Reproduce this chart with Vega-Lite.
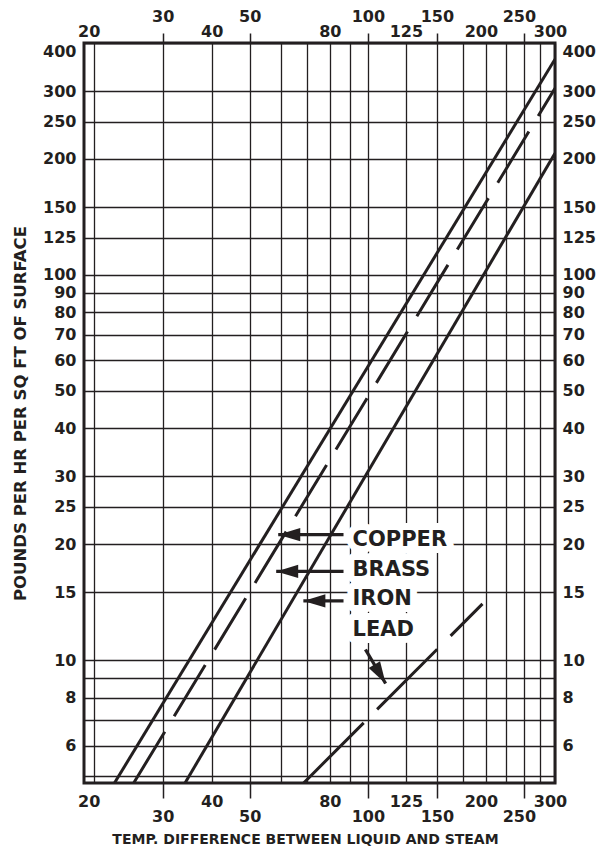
{
  "$schema": "https://vega.github.io/schema/vega-lite/v6.json",
  "width": 471,
  "height": 740,
  "autosize": "none",
  "padding": {"left": 84, "top": 43, "right": 48, "bottom": 67},
  "background": "white",
  "config": {
    "font": "DejaVu Sans",
    "view": {"stroke": "#231f20", "strokeWidth": 3},
    "axis": {
      "domain": false,
      "labelFont": "DejaVu Sans",
      "labelFontWeight": "bold",
      "labelFontSize": 16,
      "labelColor": "#231f20",
      "labelOverlap": false,
      "labelFlush": false,
      "labelBound": false,
      "titleFont": "DejaVu Sans",
      "titleFontWeight": "bold",
      "titleColor": "#231f20",
      "gridColor": "#231f20",
      "gridOpacity": 1,
      "gridWidth": 1.3,
      "tickColor": "#231f20",
      "tickWidth": 1.5,
      "format": "d"
    }
  },
  "datasets": {
    "curves": [
      {"material": "COPPER", "dt": 22.6, "rate": 4.8},
      {"material": "COPPER", "dt": 300, "rate": 363},
      {"material": "BRASS", "dt": 25.3, "rate": 4.8},
      {"material": "BRASS", "dt": 300, "rate": 305},
      {"material": "IRON", "dt": 34.2, "rate": 4.8},
      {"material": "IRON", "dt": 300, "rate": 207},
      {"material": "LEAD", "dt": 68.6, "rate": 4.8},
      {"material": "LEAD", "dt": 196, "rate": 14.0}
    ],
    "labels": [
      {"name": "COPPER", "tx": 91.4, "ty": 20.55, "ax": 86.7, "ay": 21.18, "hx": 59.1, "hy": 21.18},
      {"name": "BRASS", "tx": 91.4, "ty": 17.18, "ax": 86.7, "ay": 17.0, "hx": 58.4, "hy": 17.0},
      {"name": "IRON", "tx": 91.4, "ty": 14.45, "ax": 86.7, "ay": 14.25, "hx": 68.5, "hy": 14.25},
      {"name": "LEAD", "tx": 91.4, "ty": 12.01, "ax": 98.6, "ay": 10.66, "hx": 111, "hy": 8.7}
    ]
  },
  "layer": [
    {
      "data": {"name": "curves"},
      "transform": [{"filter": "datum.material == 'COPPER' || datum.material == 'IRON'"}],
      "mark": {"type": "line", "clip": true, "color": "#231f20", "strokeWidth": 3},
      "encoding": {
        "x": {
          "field": "dt", "type": "quantitative",
          "scale": {"type": "log", "domain": [18.9, 300], "nice": false},
          "axis": {
            "orient": "bottom",
            "values": [20, 30, 40, 50, 60, 70, 80, 90, 100, 125, 150, 175, 200, 225, 250, 275, 300],
            "grid": true,
            "labelExpr": "indexof([30, 50, 100, 150, 250], datum.value) >= 0 ? ['', datum.label] : (indexof([20, 40, 80, 125, 200, 300], datum.value) >= 0 ? datum.label : '')",
            "labelLineHeight": 15,
            "labelOffset": {"condition": {"test": "indexof([20, 200, 250, 300], datum.value) >= 0", "value": -5}, "value": 0},
            "tickSize": 15,
            "tickOpacity": {"condition": {"test": "indexof([30, 50, 100, 150, 250], datum.value) >= 0", "value": 1}, "value": 0},
            "labelPadding": -5,
            "labelBaseline": "top",
            "title": "TEMP. DIFFERENCE BETWEEN LIQUID AND STEAM",
            "titleFontSize": 14,
            "titleX": 221,
            "titleY": 56,
            "titleBaseline": "middle"
          }
        },
        "y": {
          "field": "rate", "type": "quantitative",
          "scale": {"type": "log", "domain": [4.8, 400], "nice": false},
          "axis": {
            "orient": "left",
            "values": [5, 6, 7, 8, 9, 10, 15, 20, 25, 30, 40, 50, 60, 70, 80, 90, 100, 125, 150, 200, 250, 300, 400],
            "grid": true,
            "ticks": false,
            "labelFlush": true,
            "labelExpr": "indexof([5, 7, 9], datum.value) >= 0 ? '' : datum.label",
            "labelPadding": 8,
            "title": "POUNDS PER HR PER SQ FT OF SURFACE",
            "titleFontSize": 16.5,
            "titlePadding": 14
          }
        },
        "detail": {"field": "material"}
      }
    },
    {
      "data": {"name": "curves"},
      "transform": [{"filter": "datum.material == 'BRASS'"}],
      "mark": {"type": "line", "clip": true, "color": "#231f20", "strokeWidth": 3, "strokeDash": [60, 18]},
      "encoding": {
        "x": {
          "field": "dt", "type": "quantitative",
          "scale": {"type": "log", "domain": [18.9, 300], "nice": false},
          "axis": {
            "orient": "top",
            "values": [20, 30, 40, 50, 80, 100, 125, 150, 200, 250, 300],
            "grid": false,
            "labelLineHeight": 46,
            "labelBaseline": {"condition": {"test": "indexof([30, 50, 100, 150, 250], datum.value) >= 0", "value": "line-bottom"}, "value": "bottom"},
            "labelOffset": {"condition": {"test": "indexof([20, 200, 250, 300], datum.value) >= 0", "value": -5}, "value": 0},
            "tickSize": 10,
            "tickOpacity": {"condition": {"test": "indexof([30, 50, 100, 150, 250], datum.value) >= 0", "value": 1}, "value": 0},
            "labelPadding": -6,
            "title": null
          }
        },
        "y": {
          "field": "rate", "type": "quantitative",
          "scale": {"type": "log", "domain": [4.8, 400], "nice": false},
          "axis": {
            "orient": "right",
            "values": [6, 8, 10, 15, 20, 25, 30, 40, 50, 60, 70, 80, 90, 100, 125, 150, 200, 250, 300, 400],
            "grid": false,
            "ticks": false,
            "labelFlush": true,
            "labelPadding": 7,
            "title": null
          }
        }
      }
    },
    {
      "data": {"name": "curves"},
      "transform": [{"filter": "datum.material == 'LEAD'"}],
      "mark": {"type": "line", "clip": true, "color": "#231f20", "strokeWidth": 3, "strokeDash": [85, 19]},
      "encoding": {
        "x": {"field": "dt", "type": "quantitative", "axis": null},
        "y": {"field": "rate", "type": "quantitative", "axis": null}
      }
    },
    {
      "data": {"name": "labels"},
      "mark": {"type": "text", "align": "left", "baseline": "middle", "font": "DejaVu Sans", "fontWeight": "bold", "fontSize": 21, "color": "white", "stroke": "white", "strokeWidth": 14, "strokeJoin": "round"},
      "encoding": {
        "x": {"field": "tx", "type": "quantitative", "axis": null},
        "y": {"field": "ty", "type": "quantitative", "axis": null},
        "text": {"field": "name"}
      }
    },
    {
      "data": {"name": "labels"},
      "mark": {"type": "text", "align": "left", "baseline": "middle", "font": "DejaVu Sans", "fontWeight": "bold", "fontSize": 21, "color": "#231f20"},
      "encoding": {
        "x": {"field": "tx", "type": "quantitative", "axis": null},
        "y": {"field": "ty", "type": "quantitative", "axis": null},
        "text": {"field": "name"}
      }
    },
    {
      "data": {"name": "labels"},
      "mark": {"type": "rule", "color": "#231f20", "strokeWidth": 3.3},
      "encoding": {
        "x": {"field": "ax", "type": "quantitative", "axis": null},
        "y": {"field": "ay", "type": "quantitative", "axis": null},
        "x2": {"field": "hx"},
        "y2": {"field": "hy"}
      }
    },
    {
      "data": {"name": "labels"},
      "transform": [{"filter": "datum.name != 'LEAD'"}],
      "mark": {"type": "point", "shape": "M0,0L2,-0.6L2,0.6Z", "size": 484, "filled": true, "opacity": 1, "color": "#231f20", "strokeWidth": 0},
      "encoding": {
        "x": {"field": "hx", "type": "quantitative", "axis": null},
        "y": {"field": "hy", "type": "quantitative", "axis": null}
      }
    },
    {
      "data": {"name": "labels"},
      "transform": [{"filter": "datum.name == 'LEAD'"}],
      "mark": {"type": "point", "shape": "M0,0L2,-0.6L2,0.6Z", "size": 484, "angle": 239.3, "filled": true, "opacity": 1, "color": "#231f20", "strokeWidth": 0},
      "encoding": {
        "x": {"field": "hx", "type": "quantitative", "axis": null},
        "y": {"field": "hy", "type": "quantitative", "axis": null}
      }
    }
  ],
  "resolve": {"axis": {"x": "independent", "y": "independent"}}
}
